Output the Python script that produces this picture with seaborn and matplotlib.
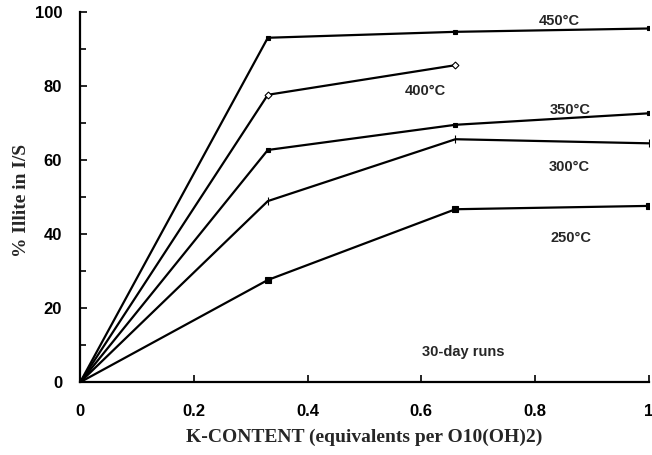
import matplotlib
matplotlib.use("Agg")
import matplotlib.pyplot as plt
from matplotlib.ticker import MultipleLocator
import seaborn as sns
import pandas as pd

# K-content (equivalents per O10(OH)2) and % illite for each run temperature
k_content = [0.0, 0.33, 0.66, 1.0]
illite_450 = [0, 93, 94.6, 95.5]
illite_400 = [0, 77.6, 85.6]
illite_350 = [0, 62.7, 69.5, 72.6]
illite_300 = [0, 48.9, 65.6, 64.5]
illite_250 = [0, 27.6, 46.7, 47.6]

series_labels = ["450°C", "400°C", "350°C", "300°C", "250°C"]
series_values = [illite_450, illite_400, illite_350, illite_300, illite_250]

frames = []
for lab, vals in zip(series_labels, series_values):
    frames.append(pd.DataFrame({"k": k_content[:len(vals)], "illite": vals, "run": lab}))
df = pd.concat(frames, ignore_index=True)

sns.set_theme(style="ticks")
plt.rcParams["font.family"] = ["Liberation Sans", "DejaVu Sans"]

fig = plt.figure(figsize=(6.52, 4.55), dpi=100)
ax = fig.add_axes([0.123, 0.160, 0.872, 0.814])

marker_style = {
    "450°C": dict(marker="s", ms=3.5, mfc="black"),
    "400°C": dict(marker="D", ms=3.5, mfc="white"),
    "350°C": dict(marker="s", ms=3, mfc="black"),
    "300°C": dict(marker="|", ms=6, mfc="black"),
    "250°C": dict(marker="s", ms=4, mfc="black"),
}

for lab in series_labels:
    sub = df[df["run"] == lab]
    sns.lineplot(data=sub, x="k", y="illite", ax=ax, color="black", lw=1.6,
                 mec="black", mew=0.8, legend=False, **marker_style[lab])

ax.set_xlim(0, 1.0)
ax.set_ylim(0, 100)
ax.yaxis.set_major_locator(MultipleLocator(20))
ax.yaxis.set_minor_locator(MultipleLocator(10))
ax.set_xticks([0, 0.2, 0.4, 0.6, 0.8, 1.0])
ax.set_xticklabels(["0", "0.2", "0.4", "0.6", "0.8", "1"])
ax.tick_params(axis="both", which="both", direction="in", width=1.2, colors="black",
               labelsize=12)
ax.tick_params(axis="x", pad=16)
ax.tick_params(axis="y", pad=13)
ax.tick_params(which="major", length=5)
ax.tick_params(which="minor", length=4)
for t in ax.get_xticklabels() + ax.get_yticklabels():
    t.set_fontweight("bold")

sns.despine(ax=ax)
for s in ["left", "bottom"]:
    ax.spines[s].set_linewidth(1.6)
    ax.spines[s].set_color("black")

ax.set_xlabel("K-CONTENT (equivalents per O10(OH)2)", family="Liberation Serif",
              fontweight="bold", fontsize=14, labelpad=7)
ax.set_ylabel("% Illite in I/S", family="Liberation Serif",
              fontweight="bold", fontsize=14, va="center")
ax.yaxis.set_label_coords(-0.104, 0.492)

txt = dict(fontsize=10.5, fontweight="bold", ha="center", va="center")
ax.text(0.843, 97.6, "450°C", **txt)
ax.text(0.607, 78.6, "400°C", **txt)
ax.text(0.861, 73.5, "350°C", **txt)
ax.text(0.861, 58.1, "300°C", **txt)
ax.text(0.864, 38.9, "250°C", **txt)
ax.text(0.674, 8.1, "30-day runs", **txt)

fig.savefig("out.png", dpi=100)
